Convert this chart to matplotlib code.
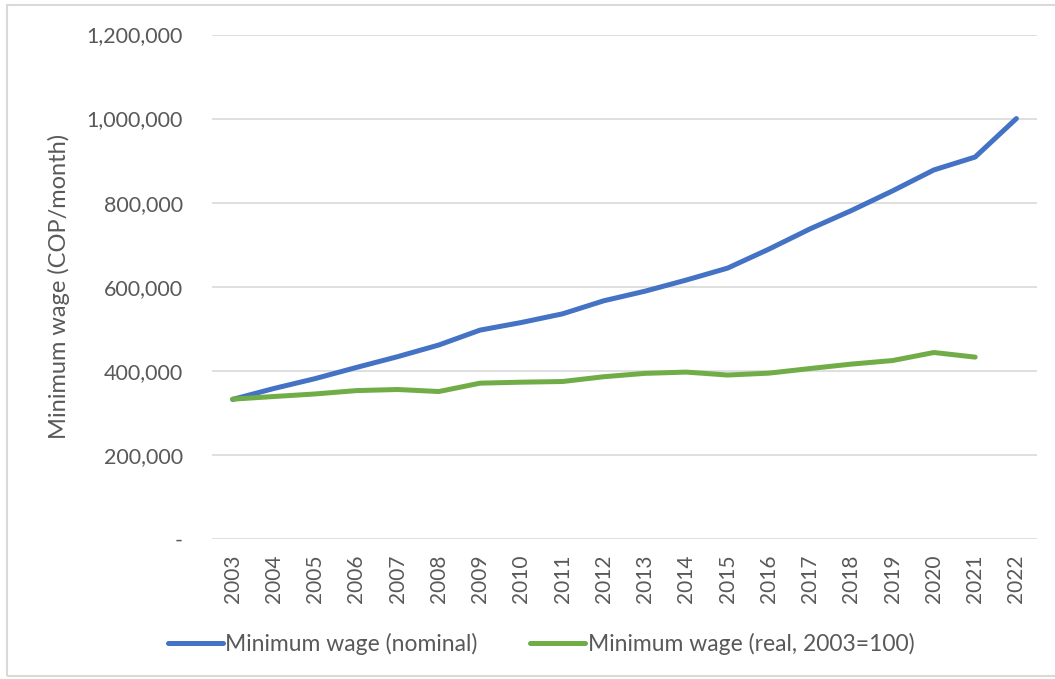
import matplotlib.pyplot as plt
from matplotlib.patches import Rectangle
from matplotlib.ticker import FuncFormatter

plt.rcParams['font.family'] = ['Lato', 'DejaVu Sans']

years = [str(y) for y in range(2003, 2023)]
nominal = [332000, 358000, 381500, 408000, 433700, 461500, 496900, 515000,
           535600, 566700, 589500, 616000, 644350, 689455, 737717, 781242,
           828116, 877803, 908526, 1000000]
real = [332600, 338900, 345000, 353000, 355600, 350800, 370700, 373000,
        374600, 386000, 394000, 397000, 390000, 394500, 405500, 416000,
        424500, 443600, 432600]

GREY = '#595959'

fig = plt.figure(figsize=(10.55, 6.79), dpi=100)
ax = fig.add_axes([212/1055, 1 - 539/679, (1037 - 212)/1055, (539 - 34.5)/679])

x = list(range(len(years)))
ax.plot(x, nominal, color='#4472C4', lw=3.6, solid_capstyle='round',
        label='Minimum wage (nominal)')
ax.plot(x[:len(real)], real, color='#70AD47', lw=3.6, solid_capstyle='round',
        label='Minimum wage (real, 2003=100)')

ax.set_xlim(-0.5, len(years) - 0.5)
ax.set_ylim(0, 1200000)
ax.set_yticks(range(0, 1200001, 200000))
ax.yaxis.set_major_formatter(FuncFormatter(lambda v, p: '-' if v == 0 else f'{int(v):,}'))
ax.set_xticks(x)
ax.set_xticklabels(years, rotation=90)
ax.grid(axis='y', color='#D9D9D9', lw=1.2)
ax.set_axisbelow(True)
for s in ax.spines.values():
    s.set_visible(False)
ax.tick_params(axis='both', length=0, colors=GREY)
ax.tick_params(axis='y', pad=21, labelsize=15.5)
ax.tick_params(axis='x', pad=11, labelsize=15)
ax.set_ylabel('Minimum wage (COP/month)', color=GREY, fontsize=17, labelpad=12)

fig.legend(loc='center', bbox_to_anchor=(541/1055, 1 - 644/679), ncol=2,
           frameon=False, fontsize=16.5, labelcolor=GREY, handlelength=2.4,
           handletextpad=0.1, columnspacing=2.3)

fig.patches.append(Rectangle((7/1055, 1 - 676/679), 1, 671/679,
                             transform=fig.transFigure, fill=False,
                             edgecolor='#D9D9D9', lw=1.5))

fig.savefig('out.png', dpi=100)
